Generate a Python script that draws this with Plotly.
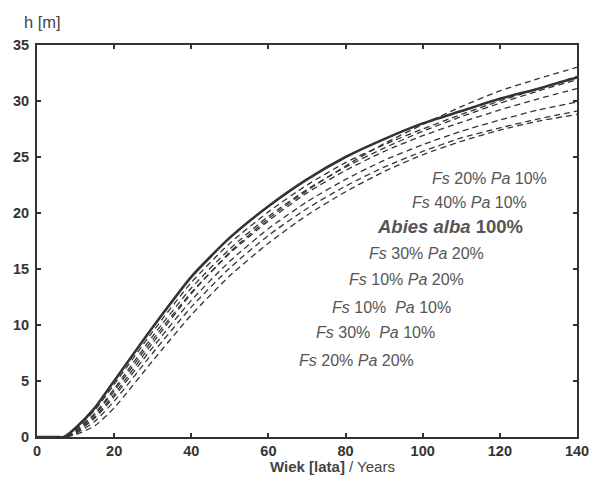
import plotly.graph_objects as go

ages = [0, 5, 7, 10, 15, 20, 30, 40, 50, 60, 70, 80, 90, 100, 110, 120, 130, 140]

abies_alba_100 = [0, 0, 0, 0.8, 2.6, 5.0, 9.8, 14.3, 17.8, 20.6, 23.0, 25.0, 26.6, 28.0, 29.1, 30.2, 31.1, 32.1]

dashed_series = {
    "A": [0, 0, 0, 0.4, 1.8, 3.8, 8.4, 12.8, 16.5, 19.5, 22.0, 24.2, 26.2, 27.9, 29.5, 30.9, 32.0, 33.0],
    "B": [0, 0, 0, 0.7, 2.4, 4.7, 9.4, 13.8, 17.3, 20.1, 22.5, 24.5, 26.1, 27.5, 28.8, 30.0, 31.1, 32.2],
    "C": [0, 0, 0, 0.6, 2.1, 4.3, 9.0, 13.3, 16.8, 19.7, 22.1, 24.1, 25.8, 27.3, 28.6, 29.8, 30.9, 31.9],
    "D": [0, 0, 0, 0.5, 2.0, 4.1, 8.7, 12.9, 16.4, 19.3, 21.8, 23.8, 25.5, 26.9, 28.1, 29.2, 30.2, 31.1],
    "E": [0, 0, 0, 0.4, 1.7, 3.6, 8.0, 12.2, 15.7, 18.6, 21.0, 23.0, 24.7, 26.1, 27.3, 28.3, 29.2, 29.9],
    "F": [0, 0, 0, 0.3, 1.4, 3.2, 7.5, 11.6, 15.1, 18.0, 20.4, 22.4, 24.1, 25.5, 26.7, 27.6, 28.4, 29.1],
    "G": [0, 0, 0, 0.2, 1.0, 2.6, 6.8, 10.9, 14.4, 17.3, 19.8, 21.9, 23.7, 25.2, 26.4, 27.4, 28.2, 28.8],
}

label_texts = [
    "<i>Fs</i> 20% <i>Pa</i> 10%",
    "<i>Fs</i> 40% <i>Pa</i> 10%",
    "<b><i>Abies alba</i> 100%</b>",
    "<i>Fs</i> 30% <i>Pa</i> 20%",
    "<i>Fs</i> 10% <i>Pa</i> 20%",
    "<i>Fs</i> 10%  <i>Pa</i> 10%",
    "<i>Fs</i> 30%  <i>Pa</i> 10%",
    "<i>Fs</i> 20% <i>Pa</i> 20%",
]
label_x = [101.9, 96.7, 87.6, 85.6, 80.4, 76.0, 71.8, 67.4]
label_y = [23.1, 20.9, 18.8, 16.4, 14.1, 11.6, 9.3, 6.8]
label_size = [16, 16, 18.5, 16, 16, 16, 16, 16]

x_ticks = [0, 20, 40, 60, 80, 100, 120, 140]
y_ticks = [0, 5, 10, 15, 20, 25, 30, 35]

x_title = "<b>Wiek [lata]</b> / Years"
y_title = "h [m]"

line_col = "#333333"
fig = go.Figure()

for name, vals in dashed_series.items():
    fig.add_trace(go.Scatter(
        x=ages, y=vals, mode="lines", name=name,
        line=dict(color=line_col, width=1.3, dash="6px,4px", shape="spline", smoothing=0.6),
        showlegend=False, hoverinfo="skip"))

fig.add_trace(go.Scatter(
    x=ages, y=abies_alba_100, mode="lines", name="Abies alba 100%",
    line=dict(color=line_col, width=2.6, shape="spline", smoothing=0.6),
    showlegend=False))

for t, x, y, s in zip(label_texts, label_x, label_y, label_size):
    fig.add_annotation(x=x, y=y, text=t, showarrow=False, xanchor="left", yanchor="middle",
                       font=dict(family="Liberation Sans, Arial", size=s, color="#555555"))

fig.add_annotation(xref="paper", yref="paper", x=-0.028, y=1.059, xanchor="left", yanchor="middle",
                   text=y_title, showarrow=False,
                   font=dict(family="Liberation Sans, Arial", size=16.5, color="#444444"))

fig.add_annotation(xref="paper", yref="paper", x=0.428, y=-0.074, xanchor="left", yanchor="middle",
                   text=x_title, showarrow=False,
                   font=dict(family="Liberation Sans, Arial", size=15, color="#444444"))

axis_common = dict(
    showline=True, linecolor=line_col, linewidth=2, mirror="ticks",
    ticks="inside", ticklen=4, tickwidth=1.5, tickcolor=line_col,
    showgrid=False, zeroline=False, automargin=False,
    tickfont=dict(family="Liberation Sans, Arial", size=14.5, color="#333333", weight="bold"),
)

fig.update_xaxes(range=[0, 140], tickvals=x_ticks, **axis_common)
fig.update_yaxes(range=[0, 35], tickvals=y_ticks, ticklabelstandoff=3, **axis_common)

fig.update_layout(
    width=589, height=480,
    margin=dict(l=29, r=20, t=37, b=51, autoexpand=False),
    plot_bgcolor="white", paper_bgcolor="white",
)

fig.write_html("out.html")
